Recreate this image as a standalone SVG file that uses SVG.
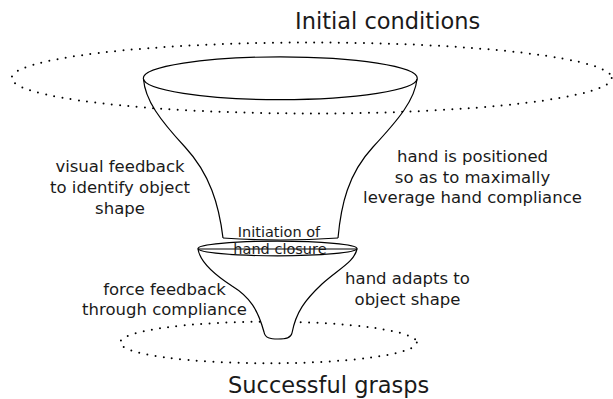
<svg xmlns="http://www.w3.org/2000/svg" width="613" height="399" viewBox="0 0 613 399">
  <style>
    .outline { fill: none; stroke: #000; stroke-width: 1.2; stroke-linejoin: round; }
    .solid-white { fill: #fff; stroke: #000; stroke-width: 1.2; stroke-linejoin: round; }
    .dotted { fill: none; stroke: #000; stroke-width: 2; stroke-linecap: round; stroke-dasharray: 0 8.3; }
    text { font-family: "DejaVu Sans", "Liberation Sans", sans-serif; fill: #1a1a1a; }
    .big { font-size: 22.5px; }
    .label { font-size: 16.5px; text-anchor: middle; }
    .small { font-size: 14.5px; text-anchor: middle; }
  </style>

  <rect width="613" height="399" fill="#fff"/>

  <!-- goal set: successful grasps -->
  <g id="successful-grasps">
    <ellipse class="dotted" cx="268.5" cy="342.5" rx="148.3" ry="20.8"/>
    <text class="big" x="228" y="393">Successful grasps</text>
  </g>

  <!-- lower funnel: closing phase -->
  <g id="lower-funnel">
    <path class="solid-white" d="M198,249 C200,262 215,275 232,286 C250,297 258,310 264,332 C265,338 270,339 278,339 C286,339 291,338 292,333 C296,312 305,300 322,284 C340,268 354,262 357,249 Z"/>
    <ellipse class="outline" cx="277.5" cy="248.5" rx="79.5" ry="7.3"/>
  </g>

  <!-- upper funnel: approach phase -->
  <g id="upper-funnel">
    <path class="outline" d="M143.5,79 C145,100 160,120 185,147 S219,205 223,238"/>
    <path class="outline" d="M417,79 C415,100 398,120 373,147 S341,205 338,238"/>
    <path class="outline" d="M223,238 Q280,242 338,238"/>
    <ellipse class="outline" cx="280.3" cy="78.3" rx="137" ry="21.4"/>
  </g>

  <!-- start set: initial conditions -->
  <g id="initial-conditions">
    <ellipse class="dotted" cx="311.7" cy="78" rx="300" ry="35.5"/>
    <text class="big" x="295" y="29">Initial conditions</text>
  </g>

  <g id="hand-closure">
    <text class="small" x="279" y="236.5">Initiation of</text>
    <text class="small" x="280" y="254">hand closure</text>
  </g>

  <g id="labels">
    <text class="label" x="120" y="172">visual feedback</text>
    <text class="label" x="120" y="193">to identify object</text>
    <text class="label" x="120" y="214">shape</text>

    <text class="label" x="472.5" y="162">hand is positioned</text>
    <text class="label" x="472.5" y="182.5">so as to maximally</text>
    <text class="label" x="472.5" y="203">leverage hand compliance</text>

    <text class="label" x="164.5" y="294.5">force feedback</text>
    <text class="label" x="164.5" y="315">through compliance</text>

    <text class="label" x="407.5" y="283.5">hand adapts to</text>
    <text class="label" x="407.5" y="304.5">object shape</text>
  </g>
</svg>
